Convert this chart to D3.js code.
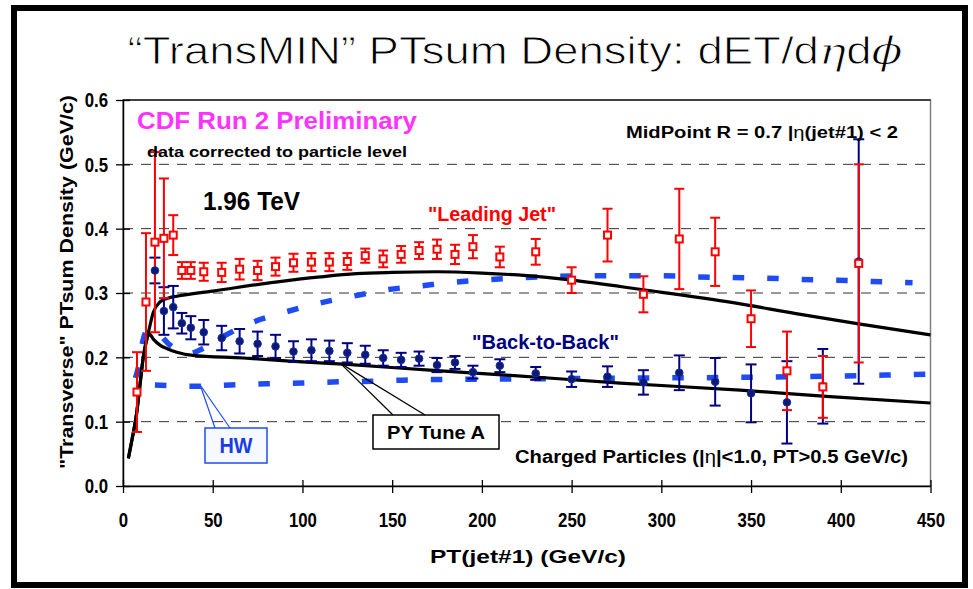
<!DOCTYPE html>
<html>
<head>
<meta charset="utf-8">
<script src="https://cdn.jsdelivr.net/npm/d3@7"></script>
<style>
  html, body { margin: 0; padding: 0; background: #fff; }
  svg { display: block; }
</style>
</head>
<body>
<svg id="chart" width="973" height="589"></svg>
<script>
// ---- data: "TransMIN" PTsum density vs leading-jet PT ----
const ljPt  = [7.8, 12.8, 17.8, 22.8, 28, 32.8, 37.8, 45, 55, 65, 75, 85, 95, 105, 115, 125, 135, 145, 155, 165, 175, 185, 195, 210, 230, 250, 270, 290, 310, 330, 350, 370, 390, 410];
const ljVal = [0.146, 0.286, 0.379, 0.385, 0.390, 0.335, 0.335, 0.333, 0.332, 0.337, 0.335, 0.341, 0.347, 0.348, 0.348, 0.349, 0.358, 0.353, 0.360, 0.366, 0.368, 0.360, 0.372, 0.356, 0.364, 0.320, 0.390, 0.298, 0.384, 0.364, 0.260, 0.179, 0.154, 0.346];
const ljErr = [0.062, 0.107, 0.140, 0.093, 0.031, 0.013, 0.013, 0.014, 0.015, 0.016, 0.015, 0.014, 0.014, 0.014, 0.014, 0.013, 0.011, 0.013, 0.013, 0.013, 0.015, 0.015, 0.018, 0.016, 0.020, 0.020, 0.041, 0.028, 0.078, 0.053, 0.044, 0.061, 0.048, 0.154];

const bbPt  = [17.8, 22.8, 28, 32.8, 37.8, 45, 55, 65, 75, 85, 95, 105, 115, 125, 135, 145, 155, 165, 175, 185, 195, 210, 230, 250, 270, 290, 310, 330, 350, 370, 390, 410];
const bbVal = [0.335, 0.272, 0.278, 0.253, 0.246, 0.239, 0.230, 0.225, 0.221, 0.217, 0.209, 0.211, 0.210, 0.207, 0.204, 0.199, 0.196, 0.198, 0.188, 0.192, 0.177, 0.187, 0.175, 0.166, 0.170, 0.161, 0.176, 0.162, 0.144, 0.130, 0.155, 0.349];
const bbErr = [0.020, 0.037, 0.033, 0.016, 0.018, 0.019, 0.019, 0.019, 0.019, 0.018, 0.016, 0.017, 0.016, 0.015, 0.014, 0.012, 0.011, 0.011, 0.011, 0.010, 0.010, 0.010, 0.010, 0.012, 0.016, 0.019, 0.027, 0.037, 0.045, 0.064, 0.058, 0.190];

// PYTHIA Tune A predictions
const pyLjPt  = [3, 5, 7.6, 9.5, 11.3, 13, 14.5, 16.9, 20.6, 25, 30, 50, 85, 110, 130, 150, 175, 200, 225, 250, 290, 340, 375, 410, 450];
const pyLjVal = [0.043, 0.072, 0.113, 0.158, 0.200, 0.225, 0.243, 0.270, 0.286, 0.292, 0.295, 0.303, 0.317, 0.325, 0.330, 0.332, 0.333, 0.331, 0.327, 0.320, 0.305, 0.285, 0.268, 0.252, 0.235];
const pyBbPt  = [3, 5, 7.6, 9.5, 11.3, 13, 14.7, 17, 20.6, 25, 30, 39, 67, 93, 125, 171, 216, 277, 344, 394, 450];
const pyBbVal = [0.043, 0.072, 0.113, 0.158, 0.200, 0.225, 0.236, 0.228, 0.219, 0.213, 0.208, 0.203, 0.199, 0.194, 0.189, 0.180, 0.172, 0.160, 0.149, 0.139, 0.129];

// HERWIG predictions
const hwLjPt  = [7, 9, 11, 13, 16, 20, 25, 30, 37, 44, 53, 71, 90, 109, 128, 147, 166, 185, 205, 224, 243, 263, 282, 301, 320, 340, 359, 378, 398, 417, 440];
const hwLjVal = [0.168, 0.190, 0.225, 0.240, 0.244, 0.237, 0.222, 0.212, 0.206, 0.213, 0.228, 0.253, 0.270, 0.284, 0.295, 0.305, 0.311, 0.317, 0.321, 0.324, 0.326, 0.327, 0.327, 0.327, 0.325, 0.324, 0.323, 0.321, 0.320, 0.318, 0.316];
const hwBbPt  = [17.8, 40, 60, 80, 100, 120, 140, 160, 200, 250, 300, 350, 400, 450];
const hwBbVal = [0.157, 0.155, 0.157, 0.159, 0.160, 0.162, 0.163, 0.165, 0.166, 0.167, 0.168, 0.169, 0.171, 0.174];

const xTicks = [0, 50, 100, 150, 200, 250, 300, 350, 400, 450];
const yTicks = [0, 0.1, 0.2, 0.3, 0.4, 0.5, 0.6];
const gridTicks = [0.1, 0.2, 0.3, 0.4, 0.5];

// ---- layout ----
const svg = d3.select('#chart');
const FONT = "'Liberation Sans', Arial, sans-serif";
const plot = { left: 123, right: 930.5, top: 100, bottom: 486 };

const x = d3.scaleLinear().domain([0, 450]).range([plot.left, plot.right]);
const y = d3.scaleLinear().domain([0, 0.6]).range([plot.bottom, plot.top]);

const RED = '#ff0000';
const NAVY = '#000080';
const HWBLUE = '#1f4cf2';

// set a text's rendered width
function fit(sel, w) {
  sel.attr('textLength', w).attr('lengthAdjust', 'spacingAndGlyphs');
  return sel;
}
// narrow each text by a factor of its natural width
function squeeze(sel, k) {
  sel.each(function () {
    const w = this.getComputedTextLength();
    d3.select(this).attr('textLength', w * k).attr('lengthAdjust', 'spacingAndGlyphs');
  });
}

// outer frame
svg.append('rect')
  .attr('x', 14).attr('y', 8).attr('width', 951).attr('height', 577)
  .attr('fill', '#fff').attr('stroke', '#000').attr('stroke-width', 6);

// title (thin strokes: a white outline trims the glyphs)
const title = svg.append('text')
  .attr('x', 515).attr('y', 64)
  .attr('text-anchor', 'middle')
  .attr('font-family', FONT).attr('font-size', 38).attr('fill', '#000')
  .attr('stroke', '#fff').attr('stroke-width', 0.9);
title.append('tspan').text('\u201CTransMIN\u201D  PTsum  Density:  dET/d');
title.append('tspan').attr('font-style', 'italic').attr('font-family', "'DejaVu Serif', serif").text('\u03B7');
title.append('tspan').text('d');
title.append('tspan').attr('font-style', 'italic').attr('font-family', "'DejaVu Serif', serif").text('\u03D5');
fit(title, 775);

// plot border
svg.append('rect')
  .attr('x', plot.left).attr('y', plot.top)
  .attr('width', plot.right - plot.left).attr('height', plot.bottom - plot.top)
  .attr('fill', 'none').attr('stroke', '#808080').attr('stroke-width', 1.5);
svg.append('line')
  .attr('x1', plot.left).attr('x2', plot.right)
  .attr('y1', plot.top).attr('y2', plot.top)
  .attr('stroke', '#222').attr('stroke-width', 1.3);

// dashed gridlines
svg.append('g').selectAll('line').data(gridTicks).join('line')
  .attr('x1', plot.left).attr('x2', plot.right)
  .attr('y1', d => y(d)).attr('y2', d => y(d))
  .attr('stroke', '#333').attr('stroke-width', 1)
  .attr('stroke-dasharray', '10,8');

// axes
const yAxis = svg.append('g')
  .attr('transform', `translate(${plot.left},0)`)
  .call(d3.axisLeft(y).tickValues(yTicks).tickFormat(d3.format('.1f')).tickSizeOuter(0).tickPadding(9));
yAxis.select('.domain').attr('stroke', '#000').attr('stroke-width', 1.5);
yAxis.selectAll('.tick line').attr('x1', -7).attr('x2', 7).attr('stroke', '#000').attr('stroke-width', 1.3);
yAxis.selectAll('.tick text')
  .attr('font-family', FONT).attr('font-size', 21).attr('font-weight', 'bold').attr('fill', '#000');
squeeze(yAxis.selectAll('.tick text'), 0.8);

const xAxis = svg.append('g')
  .attr('transform', `translate(0,${plot.bottom})`)
  .call(d3.axisBottom(x).tickValues(xTicks).tickFormat(d3.format('d')).tickSizeOuter(0).tickPadding(20));
xAxis.select('.domain').attr('stroke', '#000').attr('stroke-width', 1.5);
xAxis.selectAll('.tick line').attr('y1', -6).attr('y2', 7).attr('stroke', '#000').attr('stroke-width', 1.3);
xAxis.selectAll('.tick text')
  .attr('font-family', FONT).attr('font-size', 21).attr('font-weight', 'bold').attr('fill', '#000');
squeeze(xAxis.selectAll('.tick text'), 0.8);

// axis titles
fit(svg.append('text')
  .attr('x', 528).attr('y', 563)
  .attr('text-anchor', 'middle')
  .attr('font-family', FONT).attr('font-size', 19).attr('font-weight', 'bold')
  .text('PT(jet#1)  (GeV/c)'), 196);

fit(svg.append('text')
  .attr('transform', 'translate(73,282) rotate(-90)')
  .attr('text-anchor', 'middle')
  .attr('font-family', FONT).attr('font-size', 19).attr('font-weight', 'bold')
  .text('"Transverse" PTsum Density (GeV/c)'), 374);

// ---- model curves ----
const line = d3.line().x(d => x(d[0])).y(d => y(d[1])).curve(d3.curveMonotoneX);
const zip = (a, b) => a.map((v, i) => [v, b[i]]);

const curves = svg.append('g').attr('fill', 'none');
[[hwLjPt, hwLjVal], [hwBbPt, hwBbVal]].forEach(([p, v]) => {
  curves.append('path').attr('d', line(zip(p, v)))
    .attr('stroke', HWBLUE).attr('stroke-width', 5.5)
    .attr('stroke-dasharray', '11.5,23');
});
[[pyLjPt, pyLjVal], [pyBbPt, pyBbVal]].forEach(([p, v]) => {
  curves.append('path').attr('d', line(zip(p, v)))
    .attr('stroke', '#000').attr('stroke-width', 3.2)
    .attr('stroke-linejoin', 'round');
});

// ---- data points with error bars ----
function errorBars(pts, vals, errs, color, cap) {
  const g = svg.append('g').attr('stroke', color).attr('stroke-width', 2);
  const d = pts.map((p, i) => ({ p, v: vals[i], e: errs[i] }));
  g.selectAll('line.v').data(d).join('line').attr('class', 'v')
    .attr('x1', e => x(e.p)).attr('x2', e => x(e.p))
    .attr('y1', e => y(e.v + e.e)).attr('y2', e => y(e.v - e.e));
  g.selectAll('line.t').data(d).join('line').attr('class', 't')
    .attr('x1', e => x(e.p) - cap).attr('x2', e => x(e.p) + cap)
    .attr('y1', e => y(e.v + e.e)).attr('y2', e => y(e.v + e.e));
  g.selectAll('line.b').data(d).join('line').attr('class', 'b')
    .attr('x1', e => x(e.p) - cap).attr('x2', e => x(e.p) + cap)
    .attr('y1', e => y(e.v - e.e)).attr('y2', e => y(e.v - e.e));
}
errorBars(bbPt, bbVal, bbErr, NAVY, 5.5);
errorBars(ljPt, ljVal, ljErr, RED, 5);

svg.append('g').selectAll('circle').data(bbPt).join('circle')
  .attr('cx', d => x(d)).attr('cy', (d, i) => y(bbVal[i])).attr('r', 3.8)
  .attr('fill', '#0a1a78').attr('stroke', '#1c2c9c').attr('stroke-width', 1);

svg.append('g').selectAll('rect').data(ljPt).join('rect')
  .attr('x', d => x(d) - 3.5).attr('y', (d, i) => y(ljVal[i]) - 3.5)
  .attr('width', 7).attr('height', 7)
  .attr('fill', '#fff').attr('stroke', RED).attr('stroke-width', 2);

// ---- annotations ----
fit(svg.append('text').attr('x', 137).attr('y', 128.5)
  .attr('font-family', FONT).attr('font-size', 23).attr('font-weight', 'bold').attr('fill', '#ff33ff')
  .text('CDF Run 2 Preliminary'), 280);
fit(svg.append('text').attr('x', 147).attr('y', 157)
  .attr('font-family', FONT).attr('font-size', 15).attr('font-weight', 'bold').attr('fill', '#000')
  .text('data corrected to particle level'), 260);
fit(svg.append('text').attr('x', 203).attr('y', 210)
  .attr('font-family', FONT).attr('font-size', 25).attr('font-weight', 'bold').attr('fill', '#000')
  .text('1.96 TeV'), 97);

const mp = svg.append('text').attr('x', 626).attr('y', 138)
  .attr('font-family', FONT).attr('font-size', 16).attr('font-weight', 'bold').attr('fill', '#000');
mp.append('tspan').text('MidPoint R = 0.7 |');
mp.append('tspan').attr('font-weight', 'normal').text('\u03B7');
mp.append('tspan').text('(jet#1) < 2');
fit(mp, 272);

fit(svg.append('text').attr('x', 428).attr('y', 221)
  .attr('font-family', FONT).attr('font-size', 20).attr('font-weight', 'bold').attr('fill', RED)
  .text('"Leading Jet"'), 128);
fit(svg.append('text').attr('x', 472).attr('y', 349)
  .attr('font-family', FONT).attr('font-size', 20).attr('font-weight', 'bold').attr('fill', NAVY)
  .text('"Back-to-Back"'), 147);

const cp = svg.append('text').attr('x', 515).attr('y', 463)
  .attr('font-family', FONT).attr('font-size', 18).attr('font-weight', 'bold').attr('fill', '#000');
cp.append('tspan').text('Charged Particles (|');
cp.append('tspan').attr('font-weight', 'normal').text('\u03B7');
cp.append('tspan').text('|<1.0, PT>0.5 GeV/c)');
fit(cp, 393);

// callout: HW
const hwAnchor = [x(43), y(0.157)];
const hwBox = { x: 205, y: 428, w: 62, h: 35 };
svg.append('rect').attr('x', hwBox.x).attr('y', hwBox.y).attr('width', hwBox.w).attr('height', hwBox.h)
  .attr('fill', '#f6f9ff').attr('stroke', HWBLUE).attr('stroke-width', 1.5);
svg.append('g').attr('stroke', HWBLUE).attr('stroke-width', 1.2).selectAll('line')
  .data([hwBox.x + 10, hwBox.x + 25]).join('line')
  .attr('x1', hwAnchor[0]).attr('y1', hwAnchor[1]).attr('x2', d => d).attr('y2', hwBox.y);
fit(svg.append('text').attr('x', hwBox.x + hwBox.w / 2).attr('y', 452.5).attr('text-anchor', 'middle')
  .attr('font-family', FONT).attr('font-size', 22).attr('font-weight', 'bold').attr('fill', '#1a3ce6')
  .text('HW'), 33);

// callout: PY Tune A
const pyAnchor = [x(121), y(0.191)];
const pyBox = { x: 373, y: 415, w: 126, h: 34 };
svg.append('rect').attr('x', pyBox.x).attr('y', pyBox.y).attr('width', pyBox.w).attr('height', pyBox.h)
  .attr('fill', '#fff').attr('stroke', '#000').attr('stroke-width', 1.5);
svg.append('g').attr('stroke', '#000').attr('stroke-width', 1.2).selectAll('line')
  .data([pyBox.x + 20, pyBox.x + 52]).join('line')
  .attr('x1', pyAnchor[0]).attr('y1', pyAnchor[1]).attr('x2', d => d).attr('y2', pyBox.y);
fit(svg.append('text').attr('x', pyBox.x + pyBox.w / 2).attr('y', 439).attr('text-anchor', 'middle')
  .attr('font-family', FONT).attr('font-size', 19).attr('font-weight', 'bold').attr('fill', '#000')
  .text('PY Tune A'), 98);
</script>
</body>
</html>
